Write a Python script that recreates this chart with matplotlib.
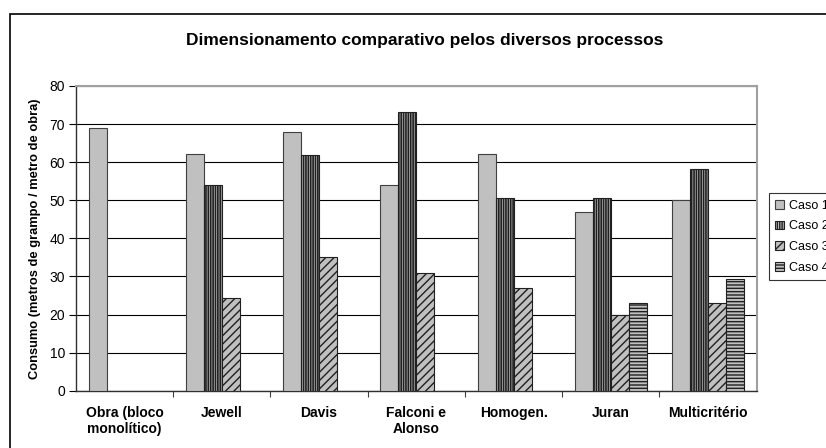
import numpy as np
import matplotlib
matplotlib.use("Agg")
import matplotlib.pyplot as plt
from matplotlib.patches import Rectangle

plt.rcParams["font.family"] = ["Liberation Sans", "DejaVu Sans"]

# values
categories = ["Obra (bloco\nmonolítico)", "Jewell", "Davis", "Falconi e\nAlonso",
              "Homogen.", "Juran", "Multicritério"]
caso1 = [69.0, 62.1, 67.9, 54.1, 62.1, 46.8, 50.0]
caso2 = [np.nan, 54.1, 61.8, 73.1, 50.7, 50.7, 58.1]
caso3 = [np.nan, 24.4, 35.1, 30.8, 27.0, 19.8, 23.0]
caso4 = [np.nan, np.nan, np.nan, np.nan, np.nan, 23.0, 29.2]
series_names = ["Caso 1", "Caso 2", "Caso 3", "Caso 4"]

fig = plt.figure(figsize=(8.26, 4.48), dpi=100)
ax = fig.add_axes([76 / 826, 1 - 390.7 / 448, (756.7 - 76) / 826, (390.7 - 86) / 448])

# outer chart frame (right/bottom edges run off the image)
fig.patches.append(Rectangle((10 / 826, -0.1), 1.2, 1.1 - 14 / 448,
                             transform=fig.transFigure, fill=False,
                             edgecolor="black", linewidth=1.2, zorder=0))

x = np.arange(len(categories))
w = 0.185
hatches = [None, "|||||||", "////", "-----"]
hatch_lw = [1.0, 1.2, 1.0, 1.0]
series = [caso1, caso2, caso3, caso4]
for i, (vals, name, h) in enumerate(zip(series, series_names, hatches)):
    with plt.rc_context({"hatch.linewidth": hatch_lw[i]}):
        ax.bar(x + (i - 1.5) * w, vals, width=w, color="#C0C0C0",
               edgecolor="#202020" if h else "#404040", linewidth=0.8,
               hatch=h, label=name, zorder=3)

ax.set_xlim(-0.5, len(categories) - 0.5)
ax.set_ylim(0, 80)
ax.set_yticks(np.arange(0, 81, 10))
ax.yaxis.grid(True, color="black", linewidth=0.8, zorder=0)
ax.set_axisbelow(True)

ax.set_xticks(x)
ax.set_xticklabels(categories, fontweight="bold", fontsize=10)
ax.set_xticks(np.arange(0.5, len(categories) - 0.5, 1), minor=True)
ax.tick_params(axis="x", which="major", length=0, pad=11)
ax.tick_params(axis="x", which="minor", length=4, width=0.8, color="#404040")
ax.tick_params(axis="y", length=5, width=0.8, labelsize=10, pad=3)

for s in ["left", "bottom"]:
    ax.spines[s].set_color("#303030")
    ax.spines[s].set_linewidth(1.0)
for s in ["top", "right"]:
    ax.spines[s].set_color("#a0a0a0")
    ax.spines[s].set_linewidth(1.5)

ax.set_ylabel("Consumo (metros de grampo / metro de obra)", fontweight="bold",
              fontsize=9.3, labelpad=6)

fig.text(425 / 826, 1 - 40 / 448, "Dimensionamento comparativo pelos diversos processos",
         ha="center", va="center", fontweight="bold", fontsize=12.5)

leg = fig.legend(loc="upper left", bbox_to_anchor=(768.7 / 826, 1 - 193.3 / 448),
                 fontsize=9, frameon=True, fancybox=False, handlelength=0.7,
                 handleheight=0.7, handletextpad=0.4, labelspacing=0.7,
                 borderpad=0.5, borderaxespad=0)
leg.get_frame().set_edgecolor("black")
leg.get_frame().set_linewidth(0.8)

fig.savefig("out.png", dpi=100)
